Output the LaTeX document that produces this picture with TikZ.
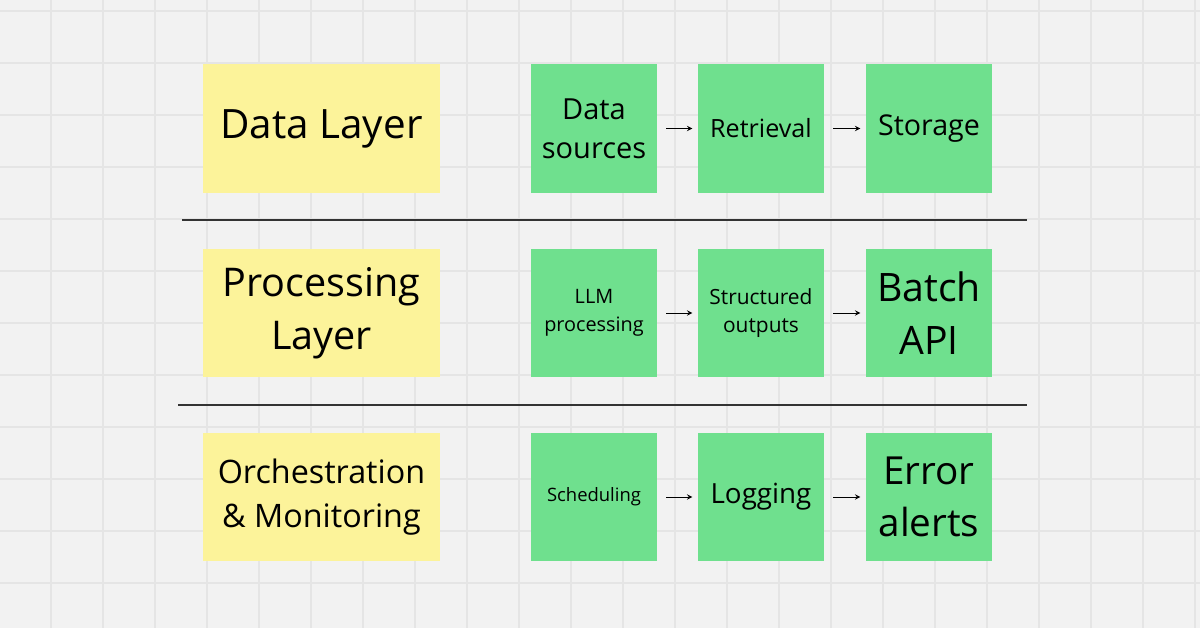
\documentclass[tikz,border=0pt]{standalone}
\usepackage{fontspec}
\setmainfont{Open Sans}
\usetikzlibrary{positioning}
\definecolor{bg}{HTML}{F2F2F2}
\definecolor{gridc}{HTML}{E5E5E5}
\definecolor{sticky}{HTML}{FCF39A}
\definecolor{leaf}{HTML}{6FE08E}
\begin{document}
\begin{tikzpicture}[x=0.02cm, y=-0.02cm, >=stealth,
    layer/.style={fill=sticky, minimum width=4.74cm, minimum height=2.58cm, align=center, inner sep=0pt},
    stage/.style={fill=leaf, minimum width=2.52cm, minimum height=2.58cm, align=center, inner sep=0pt},
    flow/.style={->, thin, shorten <=5pt, shorten >=3pt}]

    % Background and grid
    \fill[bg] (0,0) rectangle (1200,628);
    \useasboundingbox (0,0) rectangle (1200,628);
    \foreach \x in {51,103,...,1200} \draw[gridc, line width=0.6pt] (\x,0) -- (\x,628);
    \foreach \y in {11,63,...,628} \draw[gridc, line width=0.6pt] (0,\y) -- (1200,\y);

    % Layers
    \node[layer, font=\fontsize{23}{28}\selectfont] (data) at (321.5,128.5) {Data Layer};
    \node[layer, font=\fontsize{22.5}{30}\selectfont] (proc) at (321.5,313) {Processing\\Layer};
    \node[layer, font=\fontsize{18.4}{25}\selectfont] (orch) at (321.5,497) {Orchestration\\\& Monitoring};

    % Data row
    \node[stage, font=\fontsize{16.5}{22}\selectfont] (src) at (594,128.5) {Data\\sources};
    \node[stage, font=\fontsize{14.3}{17}\selectfont] (ret) at (761,128.5) {Retrieval};
    \node[stage, font=\fontsize{16.3}{19}\selectfont] (sto) at (929,128.5) {Storage};

    % Processing row
    \node[stage, font=\fontsize{11.3}{16}\selectfont] (llm) at (594,313) {LLM\\processing};
    \node[stage, font=\fontsize{11.9}{16}\selectfont] (str) at (761,313) {Structured\\outputs};
    \node[stage, font=\fontsize{22.3}{30}\selectfont] (bat) at (929,313) {Batch\\API};

    % Orchestration row
    \node[stage, font=\fontsize{10.5}{13}\selectfont] (sch) at (594,497) {Scheduling};
    \node[stage, font=\fontsize{15.8}{19}\selectfont] (log) at (761,497) {Logging};
    \node[stage, font=\fontsize{22}{30}\selectfont] (err) at (929,497) {Error\\alerts};

    % Flows
    \draw[flow] (src) -- (ret);
    \draw[flow] (ret) -- (sto);
    \draw[flow] (llm) -- (str);
    \draw[flow] (str) -- (bat);
    \draw[flow] (sch) -- (log);
    \draw[flow] (log) -- (err);

    % Separators
    \coordinate (s1a) at (182,220); \coordinate (s1b) at (1027,220);
    \coordinate (s2a) at (178,405); \coordinate (s2b) at (1027,405);
    \draw[line width=0.8pt, black!80] (s1a) -- (s1b);
    \draw[line width=0.8pt, black!80] (s2a) -- (s2b);
\end{tikzpicture}
\end{document}
